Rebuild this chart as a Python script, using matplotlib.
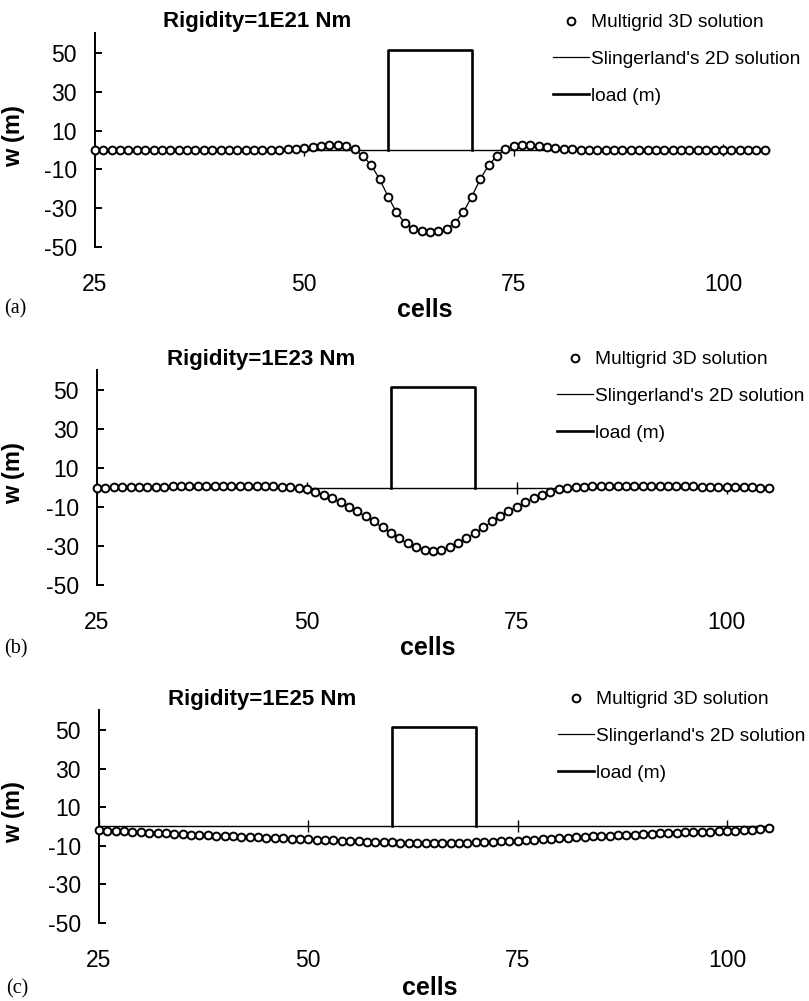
import matplotlib
matplotlib.use("Agg")
import matplotlib.pyplot as plt

plt.rcParams['font.family'] = ['Liberation Sans', 'DejaVu Sans']
plt.rcParams['axes.unicode_minus'] = False

# ---------------- data ----------------
cells = list(range(25, 106))

titles = ["Rigidity=1E21 Nm", "Rigidity=1E23 Nm", "Rigidity=1E25 Nm"]
panel_labels = ["(a)", "(b)", "(c)"]
legend_labels = ["Multigrid 3D solution", "Slingerland's 2D solution", "load (m)"]
xticks = [25, 50, 75, 100]
yticks = [50, 30, 10, -10, -30, -50]

load_x = [60, 60, 70, 70]
load_y = [0, 51.5, 51.5, 0]

# Rigidity 1E21 (cells 25..105)
w3d_a = [0]*22 + [
    0.1, 0.3, 0.5, 0.9, 1.4, 2.0, 2.6, 2.7, 1.8, 0.5,
    -3.0, -7.8, -15.0, -24.0, -32.0, -37.5, -40.5, -42.0, -42.5,
    -42.0, -40.5, -37.5, -32.0, -24.0, -15.0, -7.8, -3.0,
    0.5, 1.8, 2.7, 2.6, 2.0, 1.4, 0.9, 0.5, 0.3, 0.1] + [0]*22
w2d_a = [0]*22 + [
    0.1, 0.3, 0.5, 0.9, 1.4, 2.0, 2.6, 2.7, 1.8, 0.4,
    -3.1, -7.9, -15.1, -24.0, -32.0, -37.6, -40.6, -42.0, -42.4,
    -42.0, -40.6, -37.6, -32.0, -24.0, -15.1, -7.9, -3.1,
    0.4, 1.8, 2.7, 2.6, 2.0, 1.4, 0.9, 0.5, 0.3, 0.1] + [0]*22

# Rigidity 1E23
w3d_b = [
    0.0, 0.0, 0.1, 0.1, 0.2, 0.2, 0.3, 0.4, 0.5, 0.6,
    0.6, 0.7, 0.7, 0.8, 0.8, 0.8, 0.8, 0.8, 0.8, 0.7,
    0.7, 0.6, 0.4, 0.2, -0.3, -1.0, -2.3, -3.7, -5.4, -7.5,
    -9.8, -12.0, -14.6, -17.3, -20.2, -23.3, -26.0, -28.6, -30.6, -32.0,
    -32.5,
    -32.0, -30.6, -28.6, -26.0, -23.3, -20.2, -17.3, -14.6, -12.0, -9.8,
    -7.5, -5.4, -3.7, -2.3, -1.0, -0.3, 0.2, 0.4, 0.6, 0.7,
    0.7, 0.8, 0.8, 0.8, 0.8, 0.8, 0.8, 0.7, 0.7, 0.6,
    0.6, 0.5, 0.4, 0.3, 0.2, 0.2, 0.1, 0.1, 0.0, 0.0]
w2d_b = [
    0.0, 0.0, 0.1, 0.1, 0.2, 0.2, 0.3, 0.4, 0.5, 0.6,
    0.6, 0.7, 0.7, 0.8, 0.8, 0.8, 0.8, 0.8, 0.7, 0.7,
    0.6, 0.5, 0.3, 0.0, -0.5, -1.2, -2.5, -3.9, -5.6, -7.7,
    -10.0, -12.3, -14.9, -17.6, -20.5, -23.5, -26.2, -28.8, -30.8, -32.1,
    -32.5,
    -32.1, -30.8, -28.8, -26.2, -23.5, -20.5, -17.6, -14.9, -12.3, -10.0,
    -7.7, -5.6, -3.9, -2.5, -1.2, -0.5, 0.0, 0.3, 0.5, 0.6,
    0.7, 0.7, 0.8, 0.8, 0.8, 0.8, 0.8, 0.7, 0.7, 0.6,
    0.6, 0.5, 0.4, 0.3, 0.2, 0.2, 0.1, 0.1, 0.0, 0.0]

# Rigidity 1E25
w3d_c = [
    -2.0, -2.2, -2.4, -2.6, -2.8, -3.0, -3.2, -3.4, -3.6, -3.8,
    -4.0, -4.2, -4.4, -4.6, -4.8, -5.0, -5.2, -5.3, -5.5, -5.7,
    -5.9, -6.0, -6.2, -6.4, -6.5, -6.7, -6.9, -7.0, -7.2, -7.3,
    -7.5, -7.7, -7.8, -8.0, -8.2, -8.3, -8.5, -8.6, -8.7, -8.8,
    -8.8,
    -8.8, -8.7, -8.6, -8.5, -8.3, -8.1, -7.9, -7.7, -7.5, -7.3,
    -7.0, -6.8, -6.6, -6.3, -6.1, -5.9, -5.6, -5.4, -5.2, -5.0,
    -4.8, -4.6, -4.4, -4.2, -4.0, -3.8, -3.6, -3.5, -3.3, -3.1,
    -3.0, -2.9, -2.7, -2.6, -2.4, -2.2, -1.9, -1.6, -1.2, -0.8]
w2d_c = [
    -1.8, -2.0, -2.2, -2.4, -2.6, -2.8, -3.0, -3.2, -3.4, -3.6,
    -3.8, -4.0, -4.2, -4.4, -4.6, -4.8, -5.0, -5.2, -5.4, -5.6,
    -5.8, -6.0, -6.2, -6.3, -6.5, -6.7, -6.9, -7.0, -7.2, -7.3,
    -7.5, -7.7, -7.8, -8.0, -8.2, -8.3, -8.5, -8.6, -8.7, -8.8,
    -8.8,
    -8.8, -8.7, -8.6, -8.5, -8.3, -8.1, -7.9, -7.7, -7.5, -7.3,
    -7.0, -6.7, -6.4, -6.1, -5.8, -5.5, -5.2, -4.9, -4.7, -4.5,
    -4.3, -4.1, -3.9, -3.7, -3.5, -3.3, -3.1, -2.9, -2.8, -2.6,
    -2.5, -2.4, -2.2, -2.1, -2.0, -1.8, -1.6, -1.4, -1.1, -0.8]

w3d = [w3d_a, w3d_b, w3d_c]
w2d = [w2d_a, w2d_b, w2d_c]

# ---------------- layout ----------------
W, H = 809, 1001
fig = plt.figure(figsize=(W/100, H/100), dpi=100)

# pixel boxes: left, right, top, bottom
boxes = [(95, 769, 33, 247), (97, 773, 370, 585), (99, 773, 710, 923)]
legend_pos = [(553, 14), (557, 351), (558, 691)]  # left, top (px)
title_pos = [(257, 22), (261, 360), (262, 700)]
cells_pos = [(425, 310), (428, 648), (430, 988)]
plab_pos = [(4, 309), (4, 649), (6, 989)]

for i in range(3):
    l, r, t, b = boxes[i]
    ax = fig.add_axes([l/W, 1-b/H, (r-l)/W, (b-t)/H])
    ax.set_xlim(25, 105.5)
    ax.set_ylim(-50, 60.3)

    ln2d, = ax.plot(cells, w2d[i], color='black', lw=0.9, zorder=2,
                    label=legend_labels[1])
    pts, = ax.plot(cells, w3d[i], linestyle='none', marker='o', ms=5.6,
                   mfc='white', mec='black', mew=1.4, zorder=3, clip_on=False,
                   label=legend_labels[0])
    ld, = ax.plot(load_x, load_y, color='black', lw=1.9, zorder=4,
                  solid_joinstyle='round', label=legend_labels[2])

    for s in ['top', 'right']:
        ax.spines[s].set_visible(False)
    ax.spines['bottom'].set_position(('data', 0))
    ax.spines['bottom'].set_linewidth(1.0)
    ax.spines['left'].set_linewidth(1.4)
    ax.set_xticks(xticks)
    ax.tick_params(axis='x', direction='inout', length=8, width=1.0,
                   labelbottom=False)
    ax.set_yticks(yticks)
    ax.tick_params(axis='y', direction='in', length=5, width=1.4,
                   pad=13, labelsize=16.5)

    sec = ax.secondary_xaxis('bottom')
    sec.set_xticks(xticks)
    sec.tick_params(length=0, pad=19, labelsize=16.5)
    sec.spines['bottom'].set_visible(False)

    ax.set_ylabel('w (m)', fontsize=17, fontweight='bold')
    ax.yaxis.set_label_coords((25 - l)/(r - l), 0.52)

    fig.text(title_pos[i][0]/W, 1-title_pos[i][1]/H, titles[i],
             ha='center', va='center', fontsize=16, fontweight='bold')
    fig.text(cells_pos[i][0]/W, 1-cells_pos[i][1]/H, 'cells',
             ha='center', va='center', fontsize=18, fontweight='bold')
    fig.text(plab_pos[i][0]/W, 1-plab_pos[i][1]/H, panel_labels[i],
             ha='left', va='center', fontsize=14.5,
             family=['Liberation Serif', 'DejaVu Serif'])

    ax.legend(handles=[pts, ln2d, ld], loc='upper left',
              bbox_to_anchor=(legend_pos[i][0]/W, 1-legend_pos[i][1]/H),
              bbox_transform=fig.transFigure, frameon=False,
              fontsize=13.8, handlelength=1.9, handletextpad=0.1,
              labelspacing=1.0, borderpad=0, borderaxespad=0)

fig.savefig('out.png', dpi=100)
